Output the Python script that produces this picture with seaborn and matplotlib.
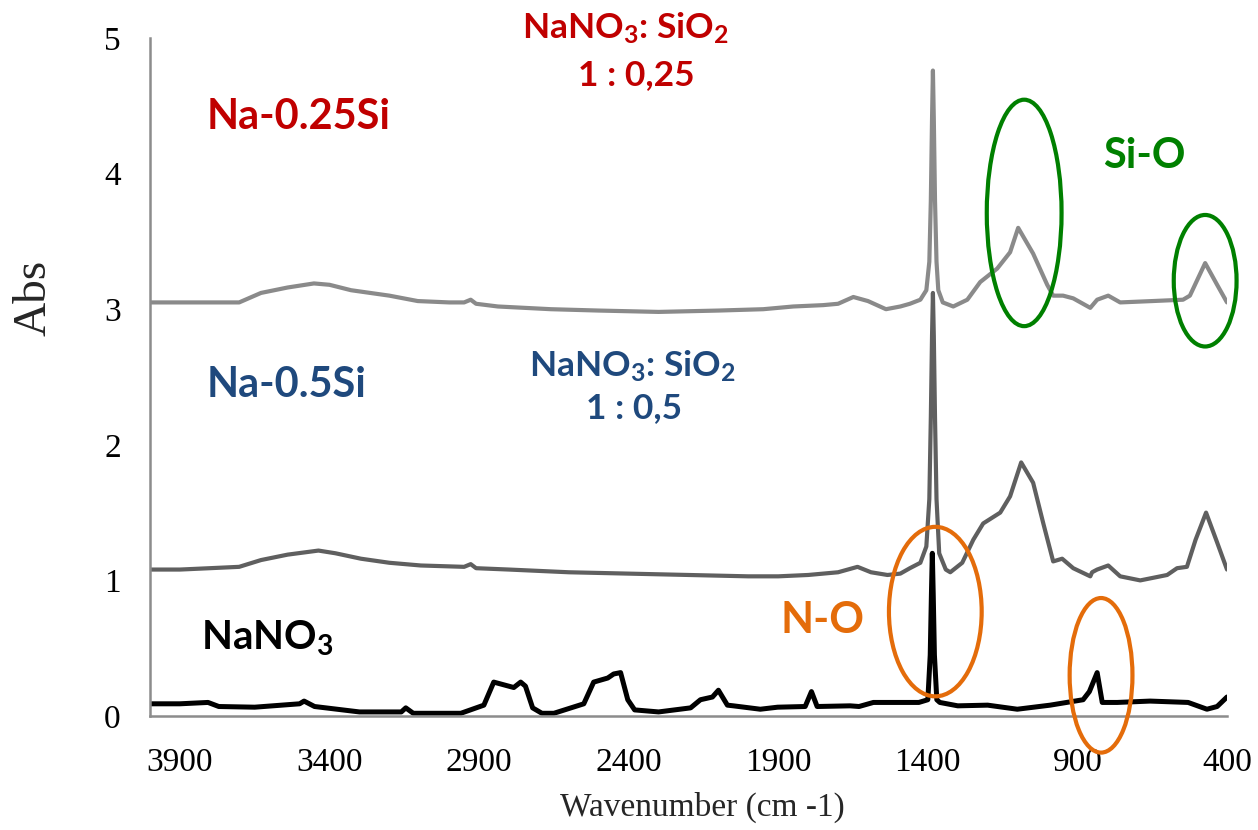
import matplotlib
matplotlib.use("Agg")
import matplotlib.pyplot as plt
import seaborn as sns
import pandas as pd
from matplotlib.patches import Ellipse

# ---------------- data ----------------
wn_25si = [3996, 3900, 3800, 3702, 3629, 3540, 3452, 3400, 3328, 3200, 3105, 3000,
           2950, 2928, 2910, 2837, 2660, 2500, 2300, 2100, 1950, 1850, 1750, 1700,
           1649, 1600, 1540, 1492, 1460, 1425, 1405, 1395, 1390, 1386, 1383, 1380,
           1376, 1371, 1365, 1350, 1315, 1268, 1225, 1168, 1125, 1098, 1048, 1001,
           981, 948, 914, 857, 834, 797, 757, 650, 547, 524, 473, 433, 400]
abs_25si = [3.05, 3.05, 3.05, 3.05, 3.12, 3.16, 3.19, 3.18, 3.14, 3.10, 3.06, 3.05,
            3.05, 3.07, 3.04, 3.02, 3.00, 2.99, 2.98, 2.99, 3.00, 3.02, 3.03, 3.04,
            3.09, 3.06, 3.00, 3.02, 3.04, 3.07, 3.14, 3.35, 3.80, 4.40, 4.76, 4.40,
            3.80, 3.35, 3.14, 3.05, 3.02, 3.07, 3.20, 3.30, 3.42, 3.60, 3.41, 3.18,
            3.10, 3.10, 3.08, 3.01, 3.07, 3.10, 3.05, 3.06, 3.07, 3.10, 3.34, 3.18, 3.05]

wn_05si = [3996, 3900, 3800, 3702, 3629, 3540, 3437, 3380, 3295, 3200, 3095, 2950,
           2928, 2910, 2800, 2600, 2400, 2200, 2000, 1900, 1800, 1700, 1635, 1590,
           1535, 1492, 1460, 1425, 1405, 1395, 1390, 1386, 1383, 1380, 1376, 1371,
           1362, 1340, 1325, 1285, 1248, 1215, 1158, 1125, 1088, 1048, 1014, 981, 951,
           914, 857, 851, 834, 797, 757, 690, 600, 567, 534, 505, 470, 433, 400]
abs_05si = [1.08, 1.08, 1.09, 1.10, 1.15, 1.19, 1.22, 1.20, 1.16, 1.13, 1.11, 1.10,
            1.12, 1.09, 1.08, 1.06, 1.05, 1.04, 1.03, 1.03, 1.04, 1.06, 1.10, 1.06,
            1.04, 1.05, 1.09, 1.13, 1.25, 1.60, 2.20, 2.80, 3.12, 2.80, 2.20, 1.60,
            1.20, 1.08, 1.06, 1.13, 1.30, 1.42, 1.50, 1.62, 1.87, 1.72, 1.42, 1.14, 1.16,
            1.09, 1.03, 1.06, 1.08, 1.11, 1.03, 1.00, 1.04, 1.09, 1.10, 1.30, 1.50, 1.28, 1.08]

wn_nano3 = [3996, 3900, 3806, 3770, 3650, 3500, 3485, 3450, 3300, 3160, 3145, 3120,
            3028, 2961, 2884, 2851, 2784, 2761, 2745, 2721, 2690, 2650, 2550, 2517,
            2470, 2450, 2427, 2403, 2380, 2300, 2193, 2160, 2120, 2100, 2070, 2050,
            1960, 1902, 1810, 1789, 1770, 1660, 1630, 1582, 1430, 1400, 1392, 1388,
            1385, 1382, 1378, 1370, 1360, 1300, 1200, 1101, 991, 881, 860, 834, 817,
            767, 657, 530, 467, 433, 400]
abs_nano3 = [0.09, 0.09, 0.10, 0.07, 0.065, 0.09, 0.11, 0.07, 0.03, 0.03, 0.06, 0.02,
             0.02, 0.02, 0.08, 0.25, 0.21, 0.25, 0.22, 0.06, 0.02, 0.02, 0.09, 0.25,
             0.28, 0.31, 0.32, 0.12, 0.045, 0.03, 0.06, 0.12, 0.14, 0.19, 0.08, 0.075,
             0.05, 0.065, 0.07, 0.18, 0.07, 0.075, 0.07, 0.10, 0.10, 0.12, 0.45, 0.90,
             1.20, 0.90, 0.45, 0.12, 0.10, 0.075, 0.08, 0.05, 0.08, 0.12, 0.18, 0.32, 0.10,
             0.10, 0.11, 0.10, 0.05, 0.07, 0.14]

x_ticks = [3900, 3400, 2900, 2400, 1900, 1400, 900, 400]
y_ticks = [0, 1, 2, 3, 4, 5]

# ---------------- styling ----------------
sns.set_style("white")
plt.rcParams["font.family"] = ["Liberation Serif", "DejaVu Serif"]
plt.rcParams["mathtext.fontset"] = "custom"
plt.rcParams["mathtext.rm"] = "Lato"
plt.rcParams["mathtext.bf"] = "Lato:bold"
plt.rcParams["mathtext.it"] = "Lato:italic"

fig = plt.figure(figsize=(12.58, 8.30), dpi=100)
ax = fig.add_axes([150 / 1258, 1 - 716 / 830, (1227 - 150) / 1258, (716 - 38) / 830])

df25 = pd.DataFrame({"wn": wn_25si, "abs": abs_25si})
df05 = pd.DataFrame({"wn": wn_05si, "abs": abs_05si})
dfn = pd.DataFrame({"wn": wn_nano3, "abs": abs_nano3})

sns.lineplot(data=df25, x="wn", y="abs", ax=ax, color="#8a8a8a", linewidth=3.0,
             estimator=None, sort=False)
sns.lineplot(data=df05, x="wn", y="abs", ax=ax, color="#5f5f5f", linewidth=3.0,
             estimator=None, sort=False)
sns.lineplot(data=dfn, x="wn", y="abs", ax=ax, color="#000000", linewidth=3.6,
             estimator=None, sort=False)

ax.set_xlim(4000, 400)
ax.set_ylim(0, 5)
ax.set_xticks(x_ticks)
ax.set_yticks(y_ticks)

for s in ["top", "right"]:
    ax.spines[s].set_visible(False)
for s in ["left", "bottom"]:
    ax.spines[s].set_color("#8c8c8c")
    ax.spines[s].set_linewidth(1.8)
ax.tick_params(axis="both", which="major", direction="out", length=7, width=1.8,
               color="#8c8c8c", labelsize=24, labelcolor="black")
ax.tick_params(axis="x", pad=16)
ax.tick_params(axis="y", pad=14)

ax.set_xlabel("Wavenumber (cm -1)", fontsize=24)
ax.xaxis.set_label_coords(0.513, -0.112)
ax.set_ylabel("Abs", fontsize=34)
ax.yaxis.set_label_coords(-0.088, 0.617)

# ---------------- annotations ----------------
sans = ["Lato", "DejaVu Sans"]
red, blue, green, orange = "#C00000", "#1F497D", "#008000", "#E46C0A"

ax.text(3502, 4.42, "Na-0.25Si", color=red, fontsize=30, fontweight="bold",
        family=sans, ha="center", va="center")
ax.text(3542, 2.44, "Na-0.5Si", color=blue, fontsize=30, fontweight="bold",
        family=sans, ha="center", va="center")
ax.text(3829, 0.487, r"NaNO$_{\mathbf{3}}$", color="black", fontsize=29,
        fontweight="bold", family=sans, ha="left", va="baseline")

ax.text(2410, 5.07, r"NaNO$_{\mathbf{3}}$: SiO$_{\mathbf{2}}$", color=red, fontsize=25.5,
        fontweight="bold", family=sans, ha="center", va="center", clip_on=False)
ax.text(2373, 4.73, "1 : 0,25", color=red, fontsize=25.5, fontweight="bold",
        family=sans, ha="center", va="center")
ax.text(2387, 2.58, r"NaNO$_{\mathbf{3}}$: SiO$_{\mathbf{2}}$", color=blue, fontsize=25.5,
        fontweight="bold", family=sans, ha="center", va="center")
ax.text(2383, 2.27, "1 : 0,5", color=blue, fontsize=25.5, fontweight="bold",
        family=sans, ha="center", va="center")

ax.text(1752, 0.71, "N-O", color=orange, fontsize=31, fontweight="bold",
        family=sans, ha="center", va="center")
ax.text(677, 4.13, "Si-O", color=green, fontsize=30, fontweight="bold",
        family=sans, ha="center", va="center")

for (cx, cy, w, h, c) in [(1078, 3.71, 250, 1.67, green), (473, 3.21, 210, 0.97, green),
                          (1375, 0.77, 310, 1.25, orange), (821, 0.30, 210, 1.14, orange)]:
    ax.add_patch(Ellipse((cx, cy), w, h, fill=False, edgecolor=c, linewidth=3.0,
                         clip_on=False, zorder=5))

fig.savefig("out.png", dpi=100)
